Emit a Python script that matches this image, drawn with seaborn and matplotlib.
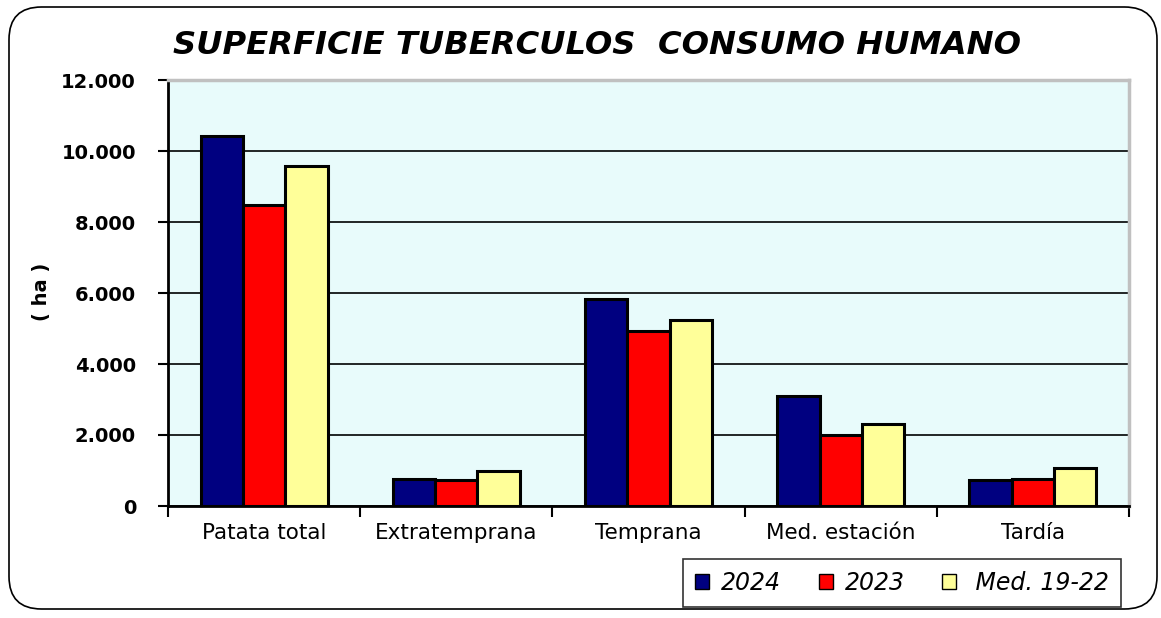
import numpy as np
import pandas as pd
import matplotlib
matplotlib.use("Agg")
import matplotlib.pyplot as plt
import seaborn as sns
from matplotlib.patches import FancyBboxPatch, Patch
from matplotlib.ticker import FuncFormatter, FixedLocator

# data (ha)
categorias = ["Patata total", "Extratemprana", "Temprana", "Med. estación", "Tardía"]
series = ["2024", "2023", "Med. 19-22"]
v2024 = [10430, 760, 5830, 3100, 720]
v2023 = [8480, 730, 4930, 1990, 770]
vmedia = [9580, 990, 5230, 2320, 1070]
colores = ["#000080", "#ff0000", "#ffff99"]

df = pd.DataFrame({
    "categoria": categorias * 3,
    "serie": [series[0]] * 5 + [series[1]] * 5 + [series[2]] * 5,
    "ha": v2024 + v2023 + vmedia,
})

sns.set_style("white")
plt.rcParams["font.family"] = ["DejaVu Sans"]
plt.rcParams["text.color"] = "black"
plt.rcParams["xtick.color"] = "black"
plt.rcParams["ytick.color"] = "black"
plt.rcParams["axes.labelcolor"] = "black"

fig = plt.figure(figsize=(11.61, 6.18), dpi=100)
ax = fig.add_axes([168 / 1161, 1 - 506 / 618, (1129 - 168) / 1161, (506 - 80) / 618])

# rounded outer frame
frame = FancyBboxPatch((9 / 1161, 9 / 618), 1148 / 1161, 602 / 618,
                       boxstyle="round,pad=0,rounding_size=0.028",
                       transform=fig.transFigure, fill=False,
                       edgecolor="black", linewidth=1.2, zorder=0,
                       mutation_aspect=1161 / 618)
fig.patches.append(frame)

ax.set_facecolor("#e8fbfb")
ax.yaxis.grid(True, color="black", linewidth=1.2)
ax.set_axisbelow(True)

sns.barplot(data=df, x="categoria", y="ha", hue="serie", palette=colores,
            order=categorias, hue_order=series, width=0.66,
            edgecolor="black", linewidth=2.2, saturation=1, ax=ax, legend=False)

ax.set_xlim(-0.5, 4.5)
ax.set_ylim(0, 12000)
ax.set_yticks(np.arange(0, 12001, 2000))
ax.yaxis.set_major_formatter(FuncFormatter(lambda v, p: f"{int(v):,}".replace(",", ".")))
for lab in ax.get_yticklabels():
    lab.set_fontweight("bold")
ax.tick_params(axis="y", direction="out", length=7, width=1.5, labelsize=14, pad=16, left=True)

ax.tick_params(axis="x", which="major", length=0, labelsize=15.5, pad=12)
ax.xaxis.set_minor_locator(FixedLocator(np.arange(-0.5, 4.6, 1)))
ax.tick_params(axis="x", which="minor", direction="out", length=8, width=1.5, bottom=True)

for s in ["top", "right"]:
    ax.spines[s].set_color("#c0c0c0")
    ax.spines[s].set_linewidth(2.5)
ax.spines["left"].set_color("black")
ax.spines["left"].set_linewidth(2)
ax.spines["bottom"].set_color("black")
ax.spines["bottom"].set_linewidth(2)

ax.set_xlabel("")
ax.set_ylabel("")
fig.text(42 / 1161, 1 - 292 / 618, "( ha )", rotation=90, ha="center", va="center",
         fontsize=14, fontweight="bold")

fig.text(597 / 1161, 1 - 45 / 618, "SUPERFICIE TUBERCULOS  CONSUMO HUMANO",
         ha="center", va="center", fontsize=23.2, fontweight="bold", fontstyle="italic")

handles = [Patch(facecolor=c, edgecolor="black", linewidth=1) for c in colores]
etiquetas = [series[0], series[1], " " + series[2]]
leg = fig.legend(handles, etiquetas, loc="center", bbox_to_anchor=(902 / 1161, 1 - 583 / 618),
                 ncol=3, frameon=True, fancybox=False, edgecolor="black",
                 prop={"style": "italic", "size": 17}, handlelength=0.6, handleheight=0.6,
                 handletextpad=0.5, columnspacing=1.6, borderpad=0.5, borderaxespad=0)
leg.get_frame().set_linewidth(1.2)

fig.savefig("out.png", dpi=100)
